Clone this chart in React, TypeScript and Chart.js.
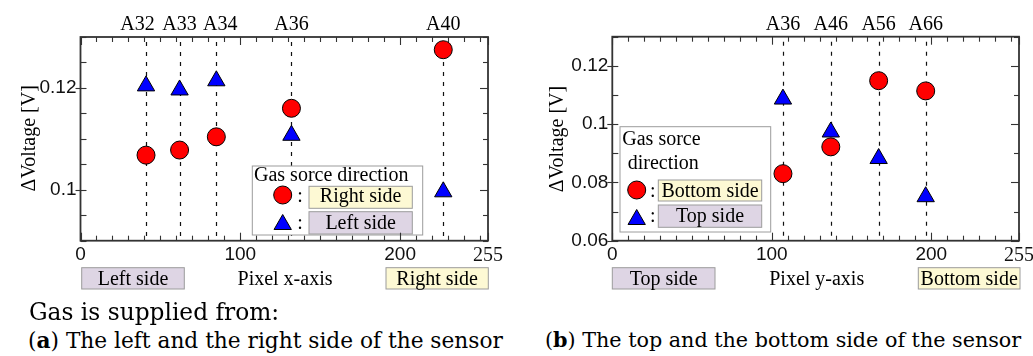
import React, { useEffect, useRef } from "react";
import { Chart, registerables } from "chart.js";

Chart.register(...registerables);

// ---------- Panel (a): gas supplied from the left / right side ----------
const aPositions = [41, 62, 85, 132, 227]; // pixel x-axis position of each element
const aNames = ["A32", "A33", "A34", "A36", "A40"];
const aRightSide = [0.1068, 0.1078, 0.1104, 0.116, 0.1275]; // red circles
const aLeftSide = [0.1204, 0.1196, 0.1214, 0.1107, 0.0996]; // blue triangles
const aYTickLabels = [0.1, 0.12];

// ---------- Panel (b): gas supplied from the top / bottom side ----------
const bPositions = [107, 137, 167, 196.5]; // pixel y-axis position of each element
const bNames = ["A36", "A46", "A56", "A66"];
const bBottomSide = [0.083, 0.0922, 0.1149, 0.1114]; // red circles
const bTopSide = [0.1086, 0.0973, 0.0882, 0.0751]; // blue triangles
const bYTickLabels = [0.06, 0.08, 0.1, 0.12];

const xTickLabels = [0, 100, 200, 255];

// ---------- styles ----------
const SERIF = '"Liberation Serif", "Times New Roman", serif';
const SANS = '"Liberation Sans", Arial, sans-serif';
const CAPTION = '"DejaVu Serif", serif';
const RED = "#ff0000";
const BLUE = "#0000ff";
const YELLOW = "#fdf9d4";
const PURPLE = "#ded5e4";
const BOXLINE = "#9c9c9c";
const AXIS = "#333333";
const H = 300;

type Rect = [number, number, number, number];
interface Row {
  kind: "circle" | "triangle";
  mx: number;
  my: number;
  colonX: number;
  colonY: number;
  fill: string;
  box: Rect;
  text: string;
  ty: number;
}
interface PanelSpec {
  left: number;
  width: number;
  area: { left: number; right: number; top: number; bottom: number };
  xs: number[];
  names: string[];
  nameNudge: number[];
  red: number[];
  blue: number[];
  redName: string;
  blueName: string;
  yMin: number;
  yMax: number;
  yStep: number;
  yLabels: number[];
  yTitle: { x: number; y: number };
  axisTitle: { text: string; x: number; y: number };
  sideBoxes: { text: string; fill: string; box: Rect; ty: number }[];
  legend: { frame: Rect; title: { text: string; x: number; y: number }[]; rows: Row[] };
}

const specA: PanelSpec = {
  left: 0,
  width: 516,
  area: { left: 80.5, right: 488, top: 37, bottom: 240.7 },
  xs: aPositions,
  names: aNames,
  nameNudge: [-8.5, 0, 4, 0, 0],
  red: aRightSide,
  blue: aLeftSide,
  redName: "Right side",
  blueName: "Left side",
  yMin: 0.09,
  yMax: 0.13,
  yStep: 0.005,
  yLabels: aYTickLabels,
  yTitle: { x: 34.5, y: 138.3 },
  axisTitle: { text: "Pixel x-axis", x: 285, y: 285 },
  sideBoxes: [
    { text: "Left side", fill: PURPLE, box: [81.7, 267.7, 184.3, 289], ty: 285 },
    { text: "Right side", fill: YELLOW, box: [386, 267.7, 488.3, 289], ty: 285 },
  ],
  legend: {
    frame: [252.3, 166, 422.7, 235],
    title: [{ text: "Gas sorce direction", x: 254, y: 181 }],
    rows: [
      { kind: "circle", mx: 282.7, my: 195, colonX: 297.3, colonY: 201.7, fill: YELLOW, box: [309, 186.3, 412.3, 208.3], text: "Right side", ty: 201.7 },
      { kind: "triangle", mx: 282.7, my: 224.5, colonX: 297.3, colonY: 229, fill: PURPLE, box: [309, 211.7, 412.3, 234], text: "Left side", ty: 229 },
    ],
  },
};

const specB: PanelSpec = {
  left: 516,
  width: 540,
  area: { left: 612.3, right: 1019, top: 36.7, bottom: 240.7 },
  xs: bPositions,
  names: bNames,
  nameNudge: [0, 0, 0, 0],
  red: bBottomSide,
  blue: bTopSide,
  redName: "Bottom side",
  blueName: "Top side",
  yMin: 0.06,
  yMax: 0.13,
  yStep: 0.01,
  yLabels: bYTickLabels,
  yTitle: { x: 562.5, y: 139 },
  axisTitle: { text: "Pixel y-axis", x: 816.7, y: 285 },
  sideBoxes: [
    { text: "Top side", fill: PURPLE, box: [612.3, 267.7, 715, 289], ty: 285 },
    { text: "Bottom side", fill: YELLOW, box: [918.3, 267.7, 1020, 289], ty: 285 },
  ],
  legend: {
    frame: [620, 126.7, 770.7, 232],
    title: [
      { text: "Gas sorce", x: 622.3, y: 145 },
      { text: "direction", x: 627.7, y: 169.3 },
    ],
    rows: [
      { kind: "circle", mx: 636.7, my: 190, colonX: 650, colonY: 197.3, fill: YELLOW, box: [658.3, 180, 761.7, 201], text: "Bottom side", ty: 197.3 },
      { kind: "triangle", mx: 636.7, my: 219.5, colonX: 650, colonY: 221.7, fill: PURPLE, box: [658.3, 205, 761.7, 227.3], text: "Top side", ty: 221.7 },
    ],
  },
};

const round4 = (v: number) => Math.round(v * 10000) / 10000;

function rangeTicks(min: number, max: number, step: number): number[] {
  const out: number[] = [];
  const n = Math.floor((max - min) / step + 1e-6);
  for (let i = 0; i <= n; i++) out.push(round4(min + i * step));
  if (out[out.length - 1] < max - 1e-9) out.push(max);
  return out;
}

function drawMarker(ctx: CanvasRenderingContext2D, kind: string, x: number, y: number) {
  ctx.beginPath();
  if (kind === "circle") {
    ctx.arc(x, y, 9, 0, Math.PI * 2);
  } else {
    const r = 10;
    let rad = 0;
    const step = (2 * Math.PI) / 3;
    ctx.moveTo(x + Math.sin(rad) * r, y - Math.cos(rad) * r);
    rad += step;
    ctx.lineTo(x + Math.sin(rad) * r, y - Math.cos(rad) * r);
    rad += step;
    ctx.lineTo(x + Math.sin(rad) * r, y - Math.cos(rad) * r);
    ctx.closePath();
  }
  ctx.fillStyle = kind === "circle" ? RED : BLUE;
  ctx.fill();
  ctx.lineWidth = 1;
  ctx.strokeStyle = "#000";
  ctx.stroke();
}

function textBox(ctx: CanvasRenderingContext2D, ox: number, b: Rect, fill: string, text: string, ty: number) {
  ctx.fillStyle = fill;
  ctx.fillRect(b[0] - ox, b[1], b[2] - b[0], b[3] - b[1]);
  ctx.strokeStyle = BOXLINE;
  ctx.lineWidth = 1;
  ctx.strokeRect(b[0] - ox, b[1], b[2] - b[0], b[3] - b[1]);
  ctx.fillStyle = "#000";
  ctx.font = `20px ${SERIF}`;
  ctx.textAlign = "center";
  ctx.textBaseline = "alphabetic";
  ctx.fillText(text, (b[0] + b[2]) / 2 - ox, ty);
}

function line(ctx: CanvasRenderingContext2D, x0: number, y0: number, x1: number, y1: number) {
  ctx.beginPath();
  ctx.moveTo(x0, y0);
  ctx.lineTo(x1, y1);
  ctx.stroke();
}

function decor(spec: PanelSpec) {
  const ox = spec.left;
  const isYLab = (v: number) => spec.yLabels.some((l) => Math.abs(l - v) < 1e-9);
  return {
    id: "decor",
    beforeDatasetsDraw(chart: any) {
      const { ctx, chartArea: ca, scales } = chart;
      const xs = scales.x;
      const ys = scales.y;
      ctx.save();
      // vertical dashed guide lines at each element position
      ctx.strokeStyle = "#111";
      ctx.lineWidth = 1.2;
      ctx.setLineDash([4, 6]);
      ctx.lineDashOffset = 5;
      spec.xs.forEach((v) => {
        const px = Math.round(xs.getPixelForValue(v)) + 0.5;
        line(ctx, px, ca.top, px, ca.bottom);
      });
      ctx.setLineDash([]);

      // legend
      const lg = spec.legend;
      const f = lg.frame;
      ctx.fillStyle = "#fff";
      ctx.fillRect(f[0] - ox, f[1], f[2] - f[0], f[3] - f[1]);
      ctx.strokeStyle = BOXLINE;
      ctx.lineWidth = 1;
      ctx.strokeRect(f[0] - ox, f[1], f[2] - f[0], f[3] - f[1]);
      ctx.fillStyle = "#000";
      ctx.font = `20px ${SERIF}`;
      ctx.textAlign = "left";
      ctx.textBaseline = "alphabetic";
      lg.title.forEach((t) => ctx.fillText(t.text, t.x - ox, t.y));
      lg.rows.forEach((r) => {
        drawMarker(ctx, r.kind, r.mx - ox, r.my);
        ctx.fillStyle = "#000";
        ctx.font = `20px ${SERIF}`;
        ctx.textAlign = "left";
        ctx.fillText(":", r.colonX - ox, r.colonY);
        textBox(ctx, ox, r.box, r.fill, r.text, r.ty);
      });

      // frame
      ctx.strokeStyle = AXIS;
      ctx.lineWidth = 1.8;
      ctx.strokeRect(ca.left, ca.top, ca.right - ca.left, ca.bottom - ca.top);

      // inward tick marks on all four sides
      ctx.lineWidth = 1.1;
      xs.ticks.forEach((t: any) => {
        const px = Math.round(xs.getPixelForValue(t.value)) + 0.5;
        const len = xTickLabels.includes(t.value) ? 8 : 5;
        line(ctx, px, ca.bottom, px, ca.bottom - len);
        line(ctx, px, ca.top, px, ca.top + len);
      });
      ys.ticks.forEach((t: any) => {
        const py = Math.round(ys.getPixelForValue(t.value)) + 0.5;
        const lab = isYLab(t.value);
        line(ctx, ca.left - (lab ? 5 : 0), py, ca.left + 6, py);
        line(ctx, ca.right - (lab ? 8 : 5), py, ca.right, py);
      });
      ctx.restore();
    },
    afterDraw(chart: any) {
      const { ctx, scales } = chart;
      const xs = scales.x;
      ctx.save();
      ctx.fillStyle = "#000";
      ctx.font = `20px ${SERIF}`;
      ctx.textBaseline = "alphabetic";
      ctx.textAlign = "center";
      // element names above the plot
      spec.names.forEach((n, i) => {
        ctx.fillText(n, xs.getPixelForValue(spec.xs[i]) + spec.nameNudge[i], 30);
      });
      // axis title under the x axis
      ctx.fillText(spec.axisTitle.text, spec.axisTitle.x - ox, spec.axisTitle.y);
      // side boxes under the x axis
      spec.sideBoxes.forEach((s) => textBox(ctx, ox, s.box, s.fill, s.text, s.ty));
      // rotated y title
      ctx.save();
      ctx.translate(spec.yTitle.x - ox, spec.yTitle.y);
      ctx.rotate(-Math.PI / 2);
      ctx.fillStyle = "#000";
      ctx.font = `20px ${SERIF}`;
      ctx.textAlign = "center";
      ctx.textBaseline = "alphabetic";
      ctx.fillText("\u0394Voltage [V]", 0, 0);
      ctx.restore();
      ctx.restore();
    },
  };
}

function buildConfig(spec: PanelSpec): any {
  const ox = spec.left;
  const a = spec.area;
  const xTicks = rangeTicks(0, 255, 10);
  const yTicks = rangeTicks(spec.yMin, spec.yMax, spec.yStep);
  const isYLab = (v: number) => spec.yLabels.some((l) => Math.abs(l - v) < 1e-9);
  return {
    type: "scatter",
    data: {
      datasets: [
        {
          label: spec.redName,
          data: spec.xs.map((x, i) => ({ x, y: spec.red[i] })),
          pointStyle: "circle",
          pointRadius: 9,
          pointHoverRadius: 9,
          backgroundColor: RED,
          borderColor: "#000",
          borderWidth: 1,
        },
        {
          label: spec.blueName,
          data: spec.xs.map((x, i) => ({ x, y: spec.blue[i] })),
          pointStyle: "triangle",
          pointRadius: 10,
          pointHoverRadius: 10,
          backgroundColor: BLUE,
          borderColor: "#000",
          borderWidth: 1,
        },
      ],
    },
    options: {
      responsive: false,
      animation: false,
      devicePixelRatio: 1,
      events: [],
      layout: {
        padding: { top: a.top, right: spec.width - (a.right - ox), bottom: 0, left: 0 },
      },
      plugins: { legend: { display: false }, tooltip: { enabled: false } },
      scales: {
        x: {
          type: "linear",
          position: "bottom",
          min: 0,
          max: 255,
          afterBuildTicks: (s: any) => {
            s.ticks = xTicks.map((v) => ({ value: v }));
          },
          afterFit: (s: any) => {
            s.height = H - a.bottom;
          },
          grid: { display: false, drawTicks: false },
          border: { display: false },
          ticks: {
            autoSkip: false,
            maxRotation: 0,
            minRotation: 0,
            padding: 3,
            color: "#111",
            font: (c: any) =>
              c.tick && c.tick.value === 255 ? { family: SERIF, size: 20 } : { family: SANS, size: 19 },
            callback: (v: number) => (xTickLabels.includes(v) ? String(v) : ""),
          },
        },
        y: {
          type: "linear",
          position: "left",
          min: spec.yMin,
          max: spec.yMax,
          afterBuildTicks: (s: any) => {
            s.ticks = yTicks.map((v) => ({ value: v }));
          },
          afterFit: (s: any) => {
            s.width = a.left - ox;
          },
          grid: { display: false, drawTicks: false },
          border: { display: false },
          ticks: {
            autoSkip: false,
            padding: 4,
            color: "#111",
            font: { family: SANS, size: 19 },
            callback: (v: number) => (isYLab(v) ? String(round4(v)) : ""),
          },
        },
      },
    },
    plugins: [decor(spec)],
  };
}

function Panel({ spec }: { spec: PanelSpec }) {
  const ref = useRef<HTMLCanvasElement>(null);
  useEffect(() => {
    if (!ref.current) return;
    const chart = new Chart(ref.current, buildConfig(spec));
    return () => chart.destroy();
  }, [spec]);
  return (
    <canvas
      ref={ref}
      width={spec.width}
      height={H}
      style={{ position: "absolute", left: spec.left, top: 0, width: spec.width, height: H, display: "block" }}
    />
  );
}

const capStyle = (left: number, top: number, size: number): React.CSSProperties => ({
  position: "absolute",
  left,
  top,
  fontFamily: CAPTION,
  fontSize: size,
  lineHeight: `${size}px`,
  whiteSpace: "nowrap",
  color: "#000",
});

export default function App() {
  return (
    <div
      style={{
        position: "absolute",
        left: 0,
        top: 0,
        width: 1033,
        height: 356,
        overflow: "hidden",
        background: "#fff",
      }}
    >
      <Panel spec={specA} />
      <Panel spec={specB} />
      <div style={capStyle(29, 300, 23.3)}>Gas is supplied from:</div>
      <div style={capStyle(28, 329.5, 21.7)}>
        (<b>a</b>) The left and the right side of the sensor
      </div>
      <div style={capStyle(545, 329.8, 20.7)}>
        (<b>b</b>) The top and the bottom side of the sensor
      </div>
    </div>
  );
}
